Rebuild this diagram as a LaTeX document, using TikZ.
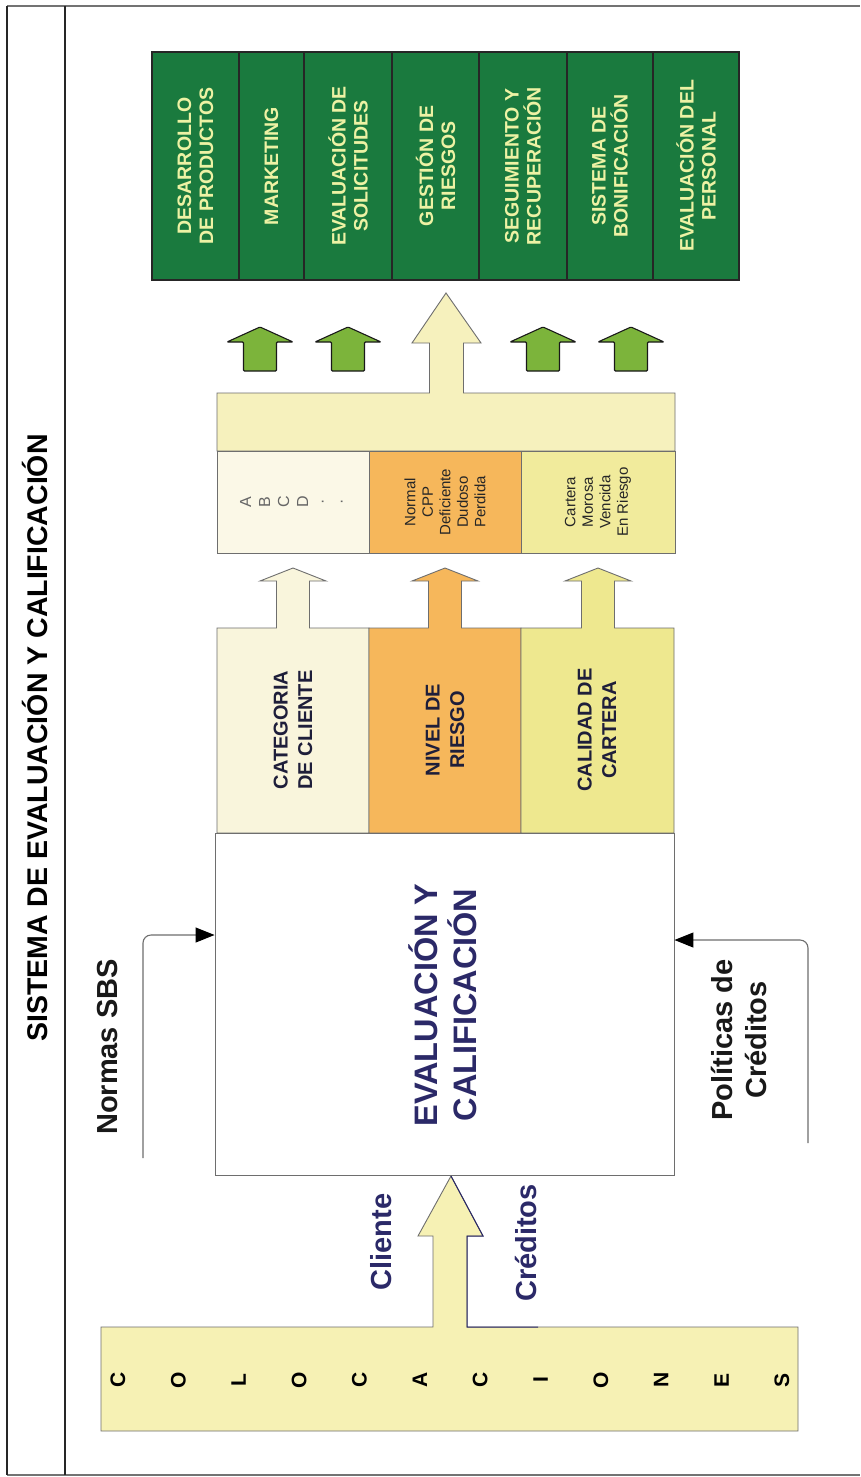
\documentclass[tikz,border=0pt]{standalone}
\usepackage{fontspec}
\setmainfont{Liberation Sans}
\usetikzlibrary{arrows.meta}

\definecolor{dgreen}{HTML}{1A7A3E}
\definecolor{gtext}{HTML}{EDF2A4}
\definecolor{garrowfill}{HTML}{7CB43B}
\definecolor{paley}{HTML}{F6F1BD}
\definecolor{creama}{HTML}{FBF8E7}
\definecolor{cata}{HTML}{F9F5DC}
\definecolor{orangeb}{HTML}{F6B75B}
\definecolor{yellowc}{HTML}{F1EB9C}
\definecolor{catc}{HTML}{EEE88F}
\definecolor{colfill}{HTML}{F6F1B4}
\definecolor{navy}{HTML}{2B2968}
\definecolor{cattext}{HTML}{1E1E3A}
\definecolor{edge}{HTML}{6E6E6E}

\begin{document}
\begin{tikzpicture}[x=1pt,y=-1pt,
  frameline/.style={draw=black!85,line width=1.4pt},
  rimline/.style={draw=black!55,line width=1.5pt},
  boxline/.style={draw=edge,line width=0.9pt},
  gcell/.style={draw=black!85,line width=1.1pt,fill=dgreen,minimum height=228pt,inner sep=0pt},
  gtxt/.style={rotate=90,align=center,text=gtext,inner sep=0pt,
    font=\fontsize{19.5}{22}\selectfont\bfseries},
  garrow/.style={draw=black!90,line width=1.1pt,fill=garrowfill,rounded corners=1pt},
  celltxt/.style={rotate=90,align=center,inner sep=0pt,text=black!85,
    font=\fontsize{15}{17.5}\selectfont},
  cattxt/.style={rotate=90,align=center,inner sep=0pt,text=cattext,
    font=\fontsize{20}{24.5}\selectfont\bfseries},
  sidetxt/.style={rotate=90,align=center,inner sep=0pt,text=black!90,
    font=\fontsize{29}{34}\selectfont\bfseries},
  navytxt/.style={rotate=90,align=center,inner sep=0pt,text=navy,
    font=\fontsize{29}{34}\selectfont\bfseries},
  coltxt/.style={rotate=90,inner sep=0pt,text=black,
    font=\fontsize{21}{24}\selectfont\bfseries},
  conn/.style={draw=edge,line width=1.1pt,rounded corners=8pt,
    -{Triangle[length=19pt,width=15pt,color=black]}}
]
\useasboundingbox (0,0) rectangle (860,1477);
\fill[white] (0,0) rectangle (860,1477);

% outer frame and title strip
\draw[rimline] (7,6) -- (860,6);
\draw[rimline] (7,1475) -- (860,1475);
\draw[frameline] (7,6) -- (7,1475);
\draw[frameline] (65,6) -- (65,1475);
\node[rotate=90,inner sep=0pt,text=black,font=\fontsize{28.5}{32}\selectfont\bfseries]
  (title) at (35,738) {SISTEMA DE EVALUACIÓN Y CALIFICACIÓN};

% green output areas
\node[gcell,minimum width=87pt]   (g1) at (195.5,166) {};
\node[gcell,minimum width=65pt]   (g2) at (271.5,166) {};
\node[gcell,minimum width=88pt]   (g3) at (348,166) {};
\node[gcell,minimum width=87pt]   (g4) at (435.5,166) {};
\node[gcell,minimum width=88pt]   (g5) at (523,166) {};
\node[gcell,minimum width=86pt]   (g6) at (610,166) {};
\node[gcell,minimum width=86pt]   (g7) at (696,166) {};
\node[gtxt] (t1) at (g1.center) {DESARROLLO\\DE PRODUCTOS};
\node[gtxt] (t2) at (g2.center) {MARKETING};
\node[gtxt] (t3) at (g3.center) {EVALUACIÓN DE\\SOLICITUDES};
\node[gtxt] (t4) at (g4.center) {GESTIÓN DE\\RIESGOS};
\node[gtxt] (t5) at (g5.center) {SEGUIMIENTO Y\\RECUPERACIÓN};
\node[gtxt] (t6) at (g6.center) {SISTEMA DE\\BONIFICACIÓN};
\node[gtxt] (t7) at (g7.center) {EVALUACIÓN DEL\\PERSONAL};

% small green arrows
\foreach \cx in {260,348,543,631}
  \draw[garrow] ({\cx-16.5},371) -- ({\cx-16.5},342) -- ({\cx-33},342) -- (\cx,327)
    -- ({\cx+33},342) -- ({\cx+16.5},342) -- ({\cx+16.5},371) -- cycle;

% result band with the large arrow rising from it
\filldraw[boxline,fill=paley] (217,451) -- (217,393) -- (429.5,393) -- (429.5,343)
  -- (412,343) -- (446,293) -- (481,343) -- (463.5,343) -- (463.5,393)
  -- (675,393) -- (675,451) -- cycle;

% result cells
\node[boxline,fill=creama,minimum width=152pt,minimum height=102pt,inner sep=0pt] (ra) at (293,502) {};
\node[boxline,fill=orangeb,minimum width=152pt,minimum height=102pt,inner sep=0pt] (rb) at (445,502) {};
\node[boxline,fill=yellowc,minimum width=154pt,minimum height=102pt,inner sep=0pt] (rc) at (598,502) {};
\node[rotate=90,align=center,inner sep=0pt,text=black!60,
  font=\fontsize{16}{19}\selectfont] (ratxt) at (ra.center) {A\\B\\C\\D\\·\\·};
\node[celltxt] (rbtxt) at (rb.center) {Normal\\CPP\\Deficiente\\Dudoso\\Perdida};
\node[celltxt] (rctxt) at (rc.center) {Cartera\\Morosa\\Vencida\\En Riesgo};

% category boxes, each with its arrow on top
\foreach \xl/\xr/\cx/\col in {217/369/293/cata, 369/521/445/orangeb, 521/674/598/catc}
  \filldraw[boxline,fill=\col] (\xl,833) -- (\xl,628) -- ({\cx-16.5},628) -- ({\cx-16.5},581)
    -- ({\cx-33},581) -- (\cx,568) -- ({\cx+33},581) -- ({\cx+16.5},581)
    -- ({\cx+16.5},628) -- (\xr,628) -- (\xr,833) -- cycle;
\node[cattxt] (c1) at (293,730) {CATEGORIA\\DE CLIENTE};
\node[cattxt] (c2) at (445,730) {NIVEL DE\\RIESGO};
\node[cattxt] (c3) at (597,730) {CALIDAD DE\\CARTERA};

% evaluation box
\node[boxline,fill=white,minimum width=459pt,minimum height=342pt,inner sep=0pt] (eval) at (444.5,1004) {};
\node[rotate=90,align=center,inner sep=0pt,text=navy,
  font=\fontsize{32.5}{38.5}\selectfont\bfseries] (evaltxt) at (443,1005) {EVALUACIÓN Y\\CALIFICACIÓN};

% regulatory inputs
\coordinate (sbsfoot) at (143,1158);
\coordinate (sbsy) at (0,935);
\draw[conn] (sbsfoot) |- (eval.west |- sbsy);
\node[sidetxt] (sbs) at (108,1047) {Normas SBS};

\coordinate (polfoot) at (808,1143);
\coordinate (poly) at (0,940);
\draw[conn] (polfoot) |- (eval.east |- poly);
\node[sidetxt] (pol) at (739,1040) {Políticas de\\Créditos};

% placements feeding the evaluation
\filldraw[boxline,fill=colfill] (101,1327) -- (433,1327) -- (433,1236) -- (418,1236)
  -- (451,1176) -- (483,1236) -- (467,1236) -- (467,1327) -- (798,1327)
  -- (798,1431) -- (101,1431) -- cycle;
\draw[navy,line width=1pt] (451,1176) -- (483,1236) -- (467,1236) -- (467,1327) -- (538,1327);
\foreach \l [count=\i from 0] in {C,O,L,O,C,A,C,I,O,N,E,S}
  \node[coltxt] (col\i) at ({118+60.36*\i},1380) {\l};
\node[navytxt] (cli) at (381,1242) {Cliente};
\node[navytxt] (cre) at (526,1243) {Créditos};
\end{tikzpicture}
\end{document}
